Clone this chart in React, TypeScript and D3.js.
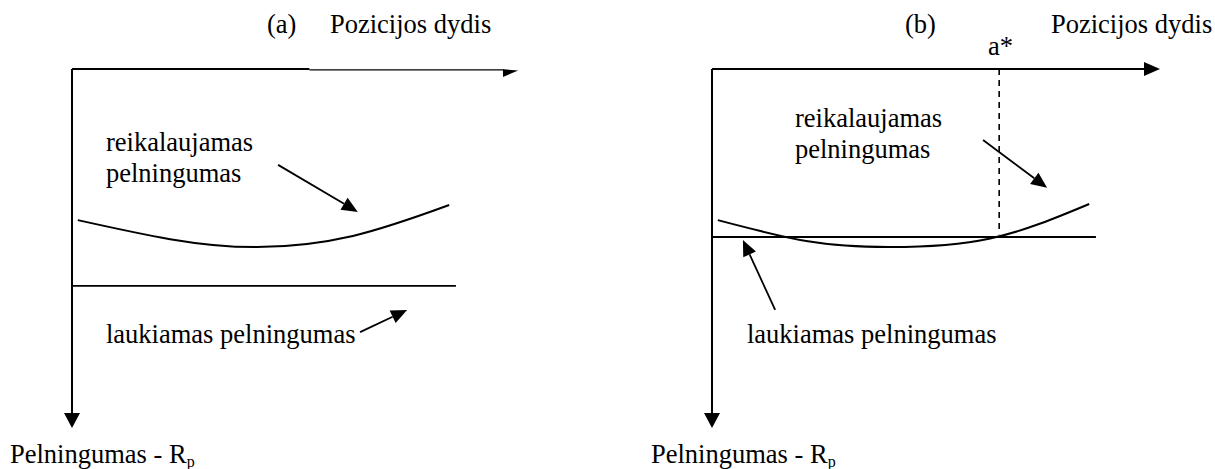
import React from "react";
import * as d3 from "d3";

// Diagram values, in axis units: x = position size (0..100), y = return, growing downward (0..100)
const curveRequiredA = [
  { x: 1.3, y: 42.1 },
  { x: 21.9, y: 47.4 },
  { x: 41.3, y: 49.6 },
  { x: 62.7, y: 46.5 },
  { x: 84.2, y: 37.9 },
];
const curveRequiredB = [
  { x: 1.3, y: 42.1 },
  { x: 21.4, y: 48.0 },
  { x: 39.7, y: 49.6 },
  { x: 62.1, y: 47.2 },
  { x: 84.2, y: 37.6 },
];
const expectedLevel = [60.4, 46.8]; // flat "laukiamas pelningumas" per panel
const expectedEnd = [85.7, 85.7];
const optimumX = 64.1; // a*
const optimumDashEnd = 46.0;

// pointer arrows [x1, y1, x2, y2] in axis units
const arrowsA = [
  [46.0, 26.7, 63.8, 39.8],
  [64.3, 73.3, 74.8, 67.1],
];
const arrowsB = [
  [60.5, 19.8, 74.8, 33.1],
  [14.1, 67.1, 6.9, 47.6],
];

const panelTags = ["(a)", "(b)"];
const xAxisTitle = "Pozicijos dydis";
const yAxisTitle = "Pelningumas - R";
const requiredLines = ["reikalaujamas", "pelningumas"];
const expectedLabel = "laukiamas pelningumas";

const FONT = "Liberation Serif";
const W = 1215;
const H = 469;

const x = d3.scaleLinear().domain([0, 100]).range([0, 448]);
const y = d3.scaleLinear().domain([0, 100]).range([0, 359]);

const line = d3
  .line<{ x: number; y: number }>()
  .x((d) => x(d.x))
  .y((d) => y(d.y))
  .curve(d3.curveNatural);

// filled triangle at (x2, y2) pointing along the segment
function head(x1: number, y1: number, x2: number, y2: number, len: number, hw: number) {
  const a = Math.atan2(y2 - y1, x2 - x1);
  const bx = x2 - len * Math.cos(a);
  const by = y2 - len * Math.sin(a);
  const px = -Math.sin(a) * hw;
  const py = Math.cos(a) * hw;
  return {
    base: [bx, by],
    points: `${x2},${y2} ${bx + px},${by + py} ${bx - px},${by - py}`,
  };
}

const Pointer = ({ a }: { a: number[] }) => {
  const [x1, y1, x2, y2] = [x(a[0]), y(a[1]), x(a[2]), y(a[3])];
  const h = head(x1, y1, x2, y2, 16, 7);
  return (
    <g>
      <line x1={x1} y1={y1} x2={h.base[0]} y2={h.base[1]} stroke="#000" strokeWidth={1.8} />
      <polygon points={h.points} fill="#000" />
    </g>
  );
};

const Label = ({ tx, ty, children }: { tx: number; ty: number; children: React.ReactNode }) => (
  <text x={tx} y={ty} style={{ fontFamily: FONT, fontSize: 26.5 }} fill="#000">
    {children}
  </text>
);

const YTitle = ({ tx }: { tx: number }) => (
  <Label tx={tx} ty={463}>
    {yAxisTitle}
    <tspan style={{ fontSize: 16 }} dy={4}>p</tspan>
  </Label>
);

export default function App() {
  const down = head(0, 0, 0, y(100), 15, 8);
  const right = head(0, 0, x(100), 0, 16, 7);
  return (
    <svg
      width={W}
      height={H}
      style={{ position: "absolute", left: 0, top: 0, background: "#fff" }}
    >
      {/* panel (a) */}
      <Label tx={267} ty={33}>{panelTags[0]}</Label>
      <Label tx={330} ty={33}>{xAxisTitle}</Label>
      <g transform="translate(72,69)">
        <line x1={0} y1={0} x2={x(53)} y2={0} stroke="#000" strokeWidth={2.2} />
        <line x1={x(53)} y1={0.8} x2={x(96.5)} y2={0.8} stroke="#000" strokeWidth={1.3} />
        <polygon
          points={`${x(99.6)},${1.5} ${x(96.2)},${0.2} ${x(96.2)},${8}`}
          fill="#000"
        />
        <line x1={0} y1={0} x2={0} y2={down.base[1]} stroke="#000" strokeWidth={2} />
        <polygon points={down.points} fill="#000" />
        <path d={line(curveRequiredA) || ""} fill="none" stroke="#000" strokeWidth={2} />
        <line
          x1={0}
          y1={y(expectedLevel[0])}
          x2={x(expectedEnd[0])}
          y2={y(expectedLevel[0])}
          stroke="#000"
          strokeWidth={1.8}
        />
        {arrowsA.map((a, i) => (
          <Pointer key={i} a={a} />
        ))}
      </g>
      <Label tx={106} ty={151}>{requiredLines[0]}</Label>
      <Label tx={106} ty={182}>{requiredLines[1]}</Label>
      <Label tx={106} ty={343}>{expectedLabel}</Label>
      <YTitle tx={10} />

      {/* panel (b) */}
      <Label tx={905} ty={33}>{panelTags[1]}</Label>
      <Label tx={1051} ty={33}>{xAxisTitle}</Label>
      <Label tx={988} ty={55}>a*</Label>
      <g transform="translate(712,69)">
        <line x1={0} y1={0} x2={right.base[0]} y2={0} stroke="#000" strokeWidth={2} />
        <polygon points={right.points} fill="#000" />
        <line x1={0} y1={0} x2={0} y2={down.base[1]} stroke="#000" strokeWidth={2} />
        <polygon points={down.points} fill="#000" />
        <line
          x1={x(optimumX)}
          y1={0}
          x2={x(optimumX)}
          y2={y(optimumDashEnd)}
          stroke="#000"
          strokeWidth={1.6}
          strokeDasharray="6,5"
        />
        <path d={line(curveRequiredB) || ""} fill="none" stroke="#000" strokeWidth={2} />
        <line
          x1={0}
          y1={y(expectedLevel[1])}
          x2={x(expectedEnd[1])}
          y2={y(expectedLevel[1])}
          stroke="#000"
          strokeWidth={1.8}
        />
        {arrowsB.map((a, i) => (
          <Pointer key={i} a={a} />
        ))}
      </g>
      <Label tx={795} ty={127}>{requiredLines[0]}</Label>
      <Label tx={795} ty={158}>{requiredLines[1]}</Label>
      <Label tx={747} ty={343}>{expectedLabel}</Label>
      <YTitle tx={651} />
    </svg>
  );
}
